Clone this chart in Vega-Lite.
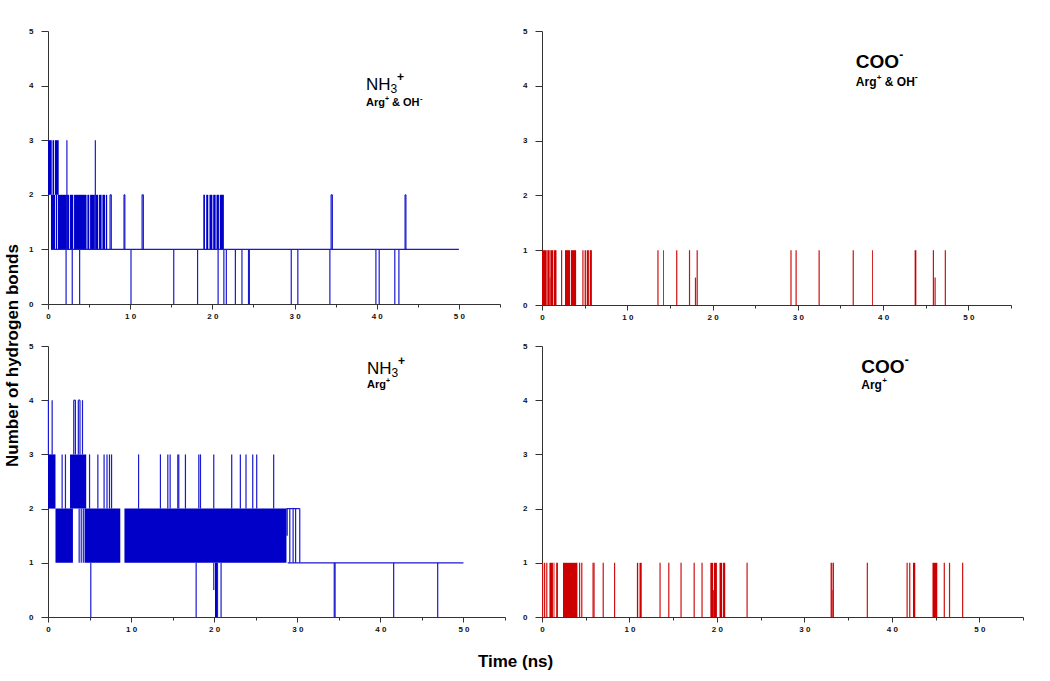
{
"$schema": "https://vega.github.io/schema/vega-lite/v6.json",
"background": "white",
"padding": {"left": 2, "top": 27, "right": 5, "bottom": 5},
"bounds": "flush",
"columns": 2,
"spacing": {"row": 41, "column": 37},
"config": {
  "view": {"stroke": null},
  "axis": {"grid": false, "domainColor": "#333333", "tickColor": "#333333", "labelColor": "#111111", "labelFont": "Liberation Sans", "labelFontWeight": "bold", "labelFontSize": 8, "titleFont": "Liberation Sans", "titleFontWeight": "bold", "titleFontSize": 17, "titleColor": "#000000", "domainWidth": 1, "tickWidth": 1},
  "axisX": {"labelPadding": 3, "labelFlush": false, "labelOverlap": false},
  "axisY": {"labelPadding": 8, "labelOverlap": false},
  "text": {"font": "Liberation Sans", "align": "left", "baseline": "alphabetic", "color": "#000000"}
},
"datasets": {
  "p1": [
    {"k":"b","t":0,"t2":0.45,"lo":2,"hi":3},
    {"k":"b","t":0.55,"t2":0.75,"lo":2,"hi":3},
    {"k":"b","t":0.85,"t2":1.3,"lo":2,"hi":3},
    {"k":"b","t":0.36,"t2":0.85,"lo":1,"hi":2},
    {"k":"b","t":0.95,"t2":1.12,"lo":1,"hi":2},
    {"k":"b","t":1.22,"t2":2.58,"lo":1,"hi":2},
    {"k":"b","t":2.68,"t2":3.07,"lo":1,"hi":2},
    {"k":"b","t":3.17,"t2":4.69,"lo":1,"hi":2},
    {"k":"b","t":4.79,"t2":5.02,"lo":1,"hi":2},
    {"k":"b","t":5.12,"t2":5.7,"lo":1,"hi":2},
    {"k":"b","t":5.8,"t2":6.11,"lo":1,"hi":2},
    {"k":"b","t":6.21,"t2":6.52,"lo":1,"hi":2},
    {"k":"b","t":6.62,"t2":6.95,"lo":1,"hi":2},
    {"k":"b","t":7.05,"t2":7.2,"lo":1,"hi":2},
    {"k":"b","t":18.9,"t2":19.1,"lo":1,"hi":2},
    {"k":"b","t":19.25,"t2":19.5,"lo":1,"hi":2},
    {"k":"b","t":19.65,"t2":20.0,"lo":1,"hi":2},
    {"k":"b","t":20.1,"t2":20.4,"lo":1,"hi":2},
    {"k":"b","t":20.5,"t2":20.8,"lo":1,"hi":2},
    {"k":"b","t":20.9,"t2":21.4,"lo":1,"hi":2},
    {"k":"v","t":2.3,"lo":1,"hi":3},
    {"k":"v","t":5.76,"lo":1,"hi":3},
    {"k":"v","t":7.55,"lo":1,"hi":2},
    {"k":"v","t":7.7,"lo":1,"hi":2},
    {"k":"v","t":9.25,"lo":1,"hi":2},
    {"k":"v","t":9.35,"lo":1,"hi":2},
    {"k":"v","t":11.45,"lo":1,"hi":2},
    {"k":"v","t":11.6,"lo":1,"hi":2},
    {"k":"v","t":34.45,"lo":1,"hi":2},
    {"k":"v","t":34.6,"lo":1,"hi":2},
    {"k":"v","t":43.45,"lo":1,"hi":2},
    {"k":"v","t":43.55,"lo":1,"hi":2},
    {"k":"v","t":2.2,"lo":0,"hi":1},
    {"k":"v","t":2.95,"lo":0,"hi":1},
    {"k":"v","t":3.85,"lo":0,"hi":1},
    {"k":"v","t":10.1,"lo":0,"hi":1},
    {"k":"v","t":15.3,"lo":0,"hi":1},
    {"k":"v","t":18.2,"lo":0,"hi":1},
    {"k":"v","t":20.7,"lo":0,"hi":1},
    {"k":"v","t":21.4,"lo":0,"hi":1},
    {"k":"v","t":21.7,"lo":0,"hi":1},
    {"k":"v","t":22.8,"lo":0,"hi":1},
    {"k":"v","t":23.6,"lo":0,"hi":1},
    {"k":"v","t":24.4,"lo":0,"hi":1},
    {"k":"v","t":24.5,"lo":0,"hi":1},
    {"k":"v","t":29.6,"lo":0,"hi":1},
    {"k":"v","t":30.4,"lo":0,"hi":1},
    {"k":"v","t":34.3,"lo":0,"hi":1},
    {"k":"v","t":39.9,"lo":0,"hi":1},
    {"k":"v","t":40.3,"lo":0,"hi":1},
    {"k":"v","t":42.2,"lo":0,"hi":1},
    {"k":"v","t":42.7,"lo":0,"hi":1},
    {"k":"h","t":0.36,"t2":50,"lo":1},
    {"k":"h","t":7.55,"t2":7.7,"lo":2},
    {"k":"h","t":9.25,"t2":9.35,"lo":2},
    {"k":"h","t":11.45,"t2":11.6,"lo":2},
    {"k":"h","t":34.45,"t2":34.6,"lo":2},
    {"k":"h","t":43.45,"t2":43.55,"lo":2}
  ],
  "p2": [
    {"k":"b","t":0,"t2":0.55,"lo":0,"hi":1},
    {"k":"b","t":0.62,"t2":0.9,"lo":0,"hi":1},
    {"k":"b","t":0.9,"t2":0.98,"lo":0,"hi":0.5},
    {"k":"b","t":0.98,"t2":1.3,"lo":0,"hi":1},
    {"k":"b","t":1.38,"t2":1.7,"lo":0,"hi":1},
    {"k":"b","t":2.7,"t2":3.3,"lo":0,"hi":1},
    {"k":"b","t":3.4,"t2":4.0,"lo":0,"hi":1},
    {"k":"b","t":5.0,"t2":5.15,"lo":0,"hi":1},
    {"k":"b","t":5.25,"t2":5.5,"lo":0,"hi":1},
    {"k":"b","t":5.6,"t2":5.85,"lo":0,"hi":1},
    {"k":"b","t":14.2,"t2":14.3,"lo":0,"hi":1},
    {"k":"b","t":38.7,"t2":38.8,"lo":0,"hi":1},
    {"k":"b","t":43.7,"t2":43.9,"lo":0,"hi":1},
    {"k":"v","t":2.3,"lo":0,"hi":1},
    {"k":"v","t":4.8,"lo":0,"hi":1},
    {"k":"v","t":13.6,"lo":0,"hi":1},
    {"k":"v","t":15.8,"lo":0,"hi":1},
    {"k":"v","t":17.3,"lo":0,"hi":1},
    {"k":"v","t":18.2,"lo":0,"hi":1},
    {"k":"v","t":29.2,"lo":0,"hi":1},
    {"k":"v","t":29.8,"lo":0,"hi":1},
    {"k":"v","t":32.5,"lo":0,"hi":1},
    {"k":"v","t":36.5,"lo":0,"hi":1},
    {"k":"v","t":45.9,"lo":0,"hi":1},
    {"k":"v","t":47.3,"lo":0,"hi":1},
    {"k":"v","t":18.0,"lo":0,"hi":0.5},
    {"k":"v","t":46.1,"lo":0,"hi":0.5}
  ],
  "p3": [
    {"k":"b","t":0,"t2":0.9,"lo":2,"hi":3},
    {"k":"b","t":0.9,"t2":3.0,"lo":1,"hi":2},
    {"k":"b","t":2.65,"t2":4.6,"lo":2,"hi":3},
    {"k":"b","t":4.4,"t2":8.7,"lo":1,"hi":2},
    {"k":"b","t":9.2,"t2":28.7,"lo":1,"hi":2},
    {"k":"b","t":28.7,"t2":28.85,"lo":1.5,"hi":2},
    {"k":"b","t":20.1,"t2":20.35,"lo":0,"hi":1},
    {"k":"v","t":0.05,"lo":3,"hi":4},
    {"k":"v","t":0.5,"lo":3,"hi":4},
    {"k":"v","t":3.1,"lo":3,"hi":4},
    {"k":"v","t":3.3,"lo":3,"hi":4},
    {"k":"v","t":3.65,"lo":3,"hi":4},
    {"k":"v","t":3.85,"lo":3,"hi":4},
    {"k":"v","t":4.15,"lo":3,"hi":4},
    {"k":"v","t":1.7,"lo":2,"hi":3},
    {"k":"v","t":2.1,"lo":2,"hi":3},
    {"k":"v","t":5.0,"lo":2,"hi":3},
    {"k":"v","t":6.0,"lo":2,"hi":3},
    {"k":"v","t":6.75,"lo":2,"hi":3},
    {"k":"v","t":7.1,"lo":2,"hi":3},
    {"k":"v","t":7.4,"lo":2,"hi":3},
    {"k":"v","t":7.65,"lo":2,"hi":3},
    {"k":"v","t":10.9,"lo":2,"hi":3},
    {"k":"v","t":13.53,"lo":2,"hi":3},
    {"k":"v","t":14.42,"lo":2,"hi":3},
    {"k":"v","t":14.7,"lo":2,"hi":3},
    {"k":"v","t":15.62,"lo":2,"hi":3},
    {"k":"v","t":15.74,"lo":2,"hi":3},
    {"k":"v","t":16.54,"lo":2,"hi":3},
    {"k":"v","t":18.15,"lo":2,"hi":3},
    {"k":"v","t":18.35,"lo":2,"hi":3},
    {"k":"v","t":19.95,"lo":2,"hi":3},
    {"k":"v","t":22.11,"lo":2,"hi":3},
    {"k":"v","t":23.15,"lo":2,"hi":3},
    {"k":"v","t":23.83,"lo":2,"hi":3},
    {"k":"v","t":24.64,"lo":2,"hi":3},
    {"k":"v","t":25.12,"lo":2,"hi":3},
    {"k":"v","t":27.16,"lo":2,"hi":3},
    {"k":"v","t":3.75,"lo":1,"hi":2},
    {"k":"v","t":4.0,"lo":1,"hi":2},
    {"k":"v","t":4.25,"lo":1,"hi":2},
    {"k":"v","t":29.1,"lo":1,"hi":2},
    {"k":"v","t":29.5,"lo":1,"hi":2},
    {"k":"v","t":29.8,"lo":1,"hi":2},
    {"k":"v","t":30.3,"lo":1,"hi":2},
    {"k":"v","t":5.15,"lo":0,"hi":1},
    {"k":"v","t":17.83,"lo":0,"hi":1},
    {"k":"v","t":20.4,"lo":0,"hi":1},
    {"k":"v","t":20.83,"lo":0,"hi":1},
    {"k":"v","t":34.45,"lo":0,"hi":1},
    {"k":"v","t":34.55,"lo":0,"hi":1},
    {"k":"v","t":41.6,"lo":0,"hi":1},
    {"k":"v","t":46.9,"lo":0,"hi":1},
    {"k":"v","t":19.95,"lo":0.5,"hi":1},
    {"k":"h","t":28.7,"t2":30.3,"lo":2},
    {"k":"h","t":28.85,"t2":50,"lo":1},
    {"k":"h","t":3.1,"t2":3.3,"lo":4},
    {"k":"h","t":3.65,"t2":3.85,"lo":4}
  ],
  "p4": [
    {"k":"b","t":0.85,"t2":1.25,"lo":0,"hi":1},
    {"k":"b","t":1.32,"t2":1.42,"lo":0,"hi":1},
    {"k":"b","t":1.62,"t2":1.82,"lo":0,"hi":1},
    {"k":"b","t":2.4,"t2":4.05,"lo":0,"hi":1},
    {"k":"b","t":10.85,"t2":11.0,"lo":0,"hi":1},
    {"k":"b","t":11.15,"t2":11.4,"lo":0,"hi":1},
    {"k":"b","t":19.25,"t2":19.55,"lo":0,"hi":1},
    {"k":"b","t":19.55,"t2":19.65,"lo":0,"hi":0.5},
    {"k":"b","t":19.65,"t2":20.0,"lo":0,"hi":1},
    {"k":"b","t":20.3,"t2":20.6,"lo":0,"hi":1},
    {"k":"b","t":20.7,"t2":20.95,"lo":0,"hi":1},
    {"k":"b","t":33.0,"t2":33.15,"lo":0,"hi":1},
    {"k":"b","t":33.15,"t2":33.22,"lo":0,"hi":0.5},
    {"k":"b","t":33.22,"t2":33.38,"lo":0,"hi":1},
    {"k":"b","t":42.42,"t2":42.68,"lo":0,"hi":1},
    {"k":"b","t":44.65,"t2":45.2,"lo":0,"hi":1},
    {"k":"v","t":0.07,"lo":0,"hi":1},
    {"k":"v","t":0.3,"lo":0,"hi":1},
    {"k":"v","t":0.55,"lo":0,"hi":1},
    {"k":"v","t":4.3,"lo":0,"hi":1},
    {"k":"v","t":4.55,"lo":0,"hi":1},
    {"k":"v","t":5.84,"lo":0,"hi":1},
    {"k":"v","t":5.95,"lo":0,"hi":1},
    {"k":"v","t":7.0,"lo":0,"hi":1},
    {"k":"v","t":8.3,"lo":0,"hi":1},
    {"k":"v","t":13.5,"lo":0,"hi":1},
    {"k":"v","t":14.5,"lo":0,"hi":1},
    {"k":"v","t":15.9,"lo":0,"hi":1},
    {"k":"v","t":17.4,"lo":0,"hi":1},
    {"k":"v","t":18.3,"lo":0,"hi":1},
    {"k":"v","t":23.45,"lo":0,"hi":1},
    {"k":"v","t":37.2,"lo":0,"hi":1},
    {"k":"v","t":41.75,"lo":0,"hi":1},
    {"k":"v","t":42.05,"lo":0,"hi":1},
    {"k":"v","t":46.0,"lo":0,"hi":1},
    {"k":"v","t":46.6,"lo":0,"hi":1},
    {"k":"v","t":48.1,"lo":0,"hi":1}
  ]
},
"concat": [
    {"width": 452, "height": 273,
     "layer": [
       {"data": {"name": "p1"}, "transform": [{"filter": "datum.k == 'b'"}], "mark": {"type": "rect", "color": "#0000c8"},
        "encoding": {
          "x": {"field": "t", "type": "quantitative", "scale": {"domain": [0, 55], "nice": false, "zero": false},
                "axis": {"title": null, "values": [0,5,10,15,20,25,30,35,40,45,50,55], "labelExpr": "datum.value % 10 == 0 && datum.value <= 50 ? (datum.value == 0 ? '0' : (datum.value / 10) + ' 0') : ''", "tickSize": {"condition": {"test": "datum.value % 10 == 0", "value": 5}, "value": 3}}},
          "y": {"field": "lo", "type": "quantitative", "scale": {"domain": [0, 5], "nice": false},
                "axis": {"title": null, "values": [0,0.5,1,1.5,2,2.5,3,3.5,4,4.5,5], "labelExpr": "datum.value % 1 == 0 ? format(datum.value, 'd') : ''", "tickSize": {"condition": {"test": "datum.value % 1 == 0", "value": 7}, "value": 4}}},
          "x2": {"field": "t2"}, "y2": {"field": "hi"}}},
       {"data": {"name": "p1"}, "transform": [{"filter": "datum.k == 'v'"}], "mark": {"type": "rule", "color": "#1a1ad0", "strokeWidth": 1.2},
        "encoding": {"x": {"field": "t", "type": "quantitative"}, "y": {"field": "lo", "type": "quantitative"}, "y2": {"field": "hi"}}},
       {"data": {"name": "p1"}, "transform": [{"filter": "datum.k == 'h'"}], "mark": {"type": "rule", "color": "#1a1ad0", "strokeWidth": 1.2},
        "encoding": {"x": {"field": "t", "type": "quantitative"}, "x2": {"field": "t2"}, "y": {"field": "lo", "type": "quantitative"}}},
       {"data": {"values": [{}]}, "mark": {"type": "text", "text": "NH", "fontSize": 17}, "encoding": {"x": {"datum": 38.7, "type": "quantitative"}, "y": {"datum": 3.92, "type": "quantitative"}}},
       {"data": {"values": [{}]}, "mark": {"type": "text", "text": "3", "fontSize": 12, "dx": 24.5, "dy": 3}, "encoding": {"x": {"datum": 38.7, "type": "quantitative"}, "y": {"datum": 3.92, "type": "quantitative"}}},
       {"data": {"values": [{}]}, "mark": {"type": "text", "text": "+", "fontSize": 12, "fontWeight": "bold", "dx": 31, "dy": -9}, "encoding": {"x": {"datum": 38.7, "type": "quantitative"}, "y": {"datum": 3.92, "type": "quantitative"}}},
       {"data": {"values": [{}]}, "mark": {"type": "text", "text": "Arg", "fontSize": 11, "fontWeight": "bold"}, "encoding": {"x": {"datum": 38.7, "type": "quantitative"}, "y": {"datum": 3.62, "type": "quantitative"}}},
       {"data": {"values": [{}]}, "mark": {"type": "text", "text": "+", "fontSize": 7, "fontWeight": "bold", "dx": 19, "dy": -5}, "encoding": {"x": {"datum": 38.7, "type": "quantitative"}, "y": {"datum": 3.62, "type": "quantitative"}}},
       {"data": {"values": [{}]}, "mark": {"type": "text", "text": "& OH", "fontSize": 11, "fontWeight": "bold", "dx": 26}, "encoding": {"x": {"datum": 38.7, "type": "quantitative"}, "y": {"datum": 3.62, "type": "quantitative"}}},
       {"data": {"values": [{}]}, "mark": {"type": "text", "text": "-", "fontSize": 8, "fontWeight": "bold", "dx": 54, "dy": -5}, "encoding": {"x": {"datum": 38.7, "type": "quantitative"}, "y": {"datum": 3.62, "type": "quantitative"}}}
     ]
    },
    {"width": 469, "height": 274,
     "layer": [
       {"data": {"name": "p2"}, "transform": [{"filter": "datum.k == 'b'"}], "mark": {"type": "rect", "color": "#cc0000"},
        "encoding": {
          "x": {"field": "t", "type": "quantitative", "scale": {"domain": [0, 55], "nice": false, "zero": false},
                "axis": {"title": null, "values": [0,5,10,15,20,25,30,35,40,45,50,55], "labelExpr": "datum.value % 10 == 0 && datum.value <= 50 ? (datum.value == 0 ? '0' : (datum.value / 10) + ' 0') : ''", "tickSize": {"condition": {"test": "datum.value % 10 == 0", "value": 5}, "value": 3}}},
          "y": {"field": "lo", "type": "quantitative", "scale": {"domain": [0, 5], "nice": false},
                "axis": {"title": null, "values": [0,0.5,1,1.5,2,2.5,3,3.5,4,4.5,5], "labelExpr": "datum.value % 1 == 0 ? format(datum.value, 'd') : ''", "tickSize": {"condition": {"test": "datum.value % 1 == 0", "value": 7}, "value": 4}}},
          "x2": {"field": "t2"}, "y2": {"field": "hi"}}},
       {"data": {"name": "p2"}, "transform": [{"filter": "datum.k == 'v'"}], "mark": {"type": "rule", "color": "#d01010", "strokeWidth": 1.2},
        "encoding": {"x": {"field": "t", "type": "quantitative"}, "y": {"field": "lo", "type": "quantitative"}, "y2": {"field": "hi"}}},
       {"data": {"values": [{}]}, "mark": {"type": "text", "text": "COO", "fontSize": 19, "fontWeight": "bold"}, "encoding": {"x": {"datum": 36.8, "type": "quantitative"}, "y": {"datum": 4.32, "type": "quantitative"}}},
       {"data": {"values": [{}]}, "mark": {"type": "text", "text": "-", "fontSize": 12, "fontWeight": "bold", "dx": 43.5, "dy": -9}, "encoding": {"x": {"datum": 36.8, "type": "quantitative"}, "y": {"datum": 4.32, "type": "quantitative"}}},
       {"data": {"values": [{}]}, "mark": {"type": "text", "text": "Arg", "fontSize": 12, "fontWeight": "bold"}, "encoding": {"x": {"datum": 36.8, "type": "quantitative"}, "y": {"datum": 3.99, "type": "quantitative"}}},
       {"data": {"values": [{}]}, "mark": {"type": "text", "text": "+", "fontSize": 8, "fontWeight": "bold", "dx": 21, "dy": -6}, "encoding": {"x": {"datum": 36.8, "type": "quantitative"}, "y": {"datum": 3.99, "type": "quantitative"}}},
       {"data": {"values": [{}]}, "mark": {"type": "text", "text": "& OH", "fontSize": 12, "fontWeight": "bold", "dx": 29}, "encoding": {"x": {"datum": 36.8, "type": "quantitative"}, "y": {"datum": 3.99, "type": "quantitative"}}},
       {"data": {"values": [{}]}, "mark": {"type": "text", "text": "-", "fontSize": 9, "fontWeight": "bold", "dx": 59, "dy": -6}, "encoding": {"x": {"datum": 36.8, "type": "quantitative"}, "y": {"datum": 3.99, "type": "quantitative"}}}
     ]
    },
    {"width": 457, "height": 271,
     "layer": [
       {"data": {"name": "p3"}, "transform": [{"filter": "datum.k == 'b'"}], "mark": {"type": "rect", "color": "#0000c8"},
        "encoding": {
          "x": {"field": "t", "type": "quantitative", "scale": {"domain": [0, 55], "nice": false, "zero": false},
                "axis": {"title": "Time (ns)", "titleX": 467, "titleY": 36, "titleAlign": "center", "titleBaseline": "top", "values": [0,5,10,15,20,25,30,35,40,45,50,55], "labelExpr": "datum.value % 10 == 0 && datum.value <= 50 ? (datum.value == 0 ? '0' : (datum.value / 10) + ' 0') : ''", "tickSize": {"condition": {"test": "datum.value % 10 == 0", "value": 5}, "value": 3}}},
          "y": {"field": "lo", "type": "quantitative", "scale": {"domain": [0, 5], "nice": false},
                "axis": {"title": "Number of hydrogen bonds", "titleX": -31, "titleY": 9, "titleAngle": 270, "titleAlign": "center", "titleBaseline": "alphabetic", "values": [0,0.5,1,1.5,2,2.5,3,3.5,4,4.5,5], "labelExpr": "datum.value % 1 == 0 ? format(datum.value, 'd') : ''", "tickSize": {"condition": {"test": "datum.value % 1 == 0", "value": 7}, "value": 4}}},
          "x2": {"field": "t2"}, "y2": {"field": "hi"}}},
       {"data": {"name": "p3"}, "transform": [{"filter": "datum.k == 'v'"}], "mark": {"type": "rule", "color": "#1a1ad0", "strokeWidth": 1.2},
        "encoding": {"x": {"field": "t", "type": "quantitative"}, "y": {"field": "lo", "type": "quantitative"}, "y2": {"field": "hi"}}},
       {"data": {"name": "p3"}, "transform": [{"filter": "datum.k == 'h'"}], "mark": {"type": "rule", "color": "#1a1ad0", "strokeWidth": 1.2},
        "encoding": {"x": {"field": "t", "type": "quantitative"}, "x2": {"field": "t2"}, "y": {"field": "lo", "type": "quantitative"}}},
       {"data": {"values": [{}]}, "mark": {"type": "text", "text": "NH", "fontSize": 17}, "encoding": {"x": {"datum": 38.4, "type": "quantitative"}, "y": {"datum": 4.49, "type": "quantitative"}}},
       {"data": {"values": [{}]}, "mark": {"type": "text", "text": "3", "fontSize": 12, "dx": 24.5, "dy": 3}, "encoding": {"x": {"datum": 38.4, "type": "quantitative"}, "y": {"datum": 4.49, "type": "quantitative"}}},
       {"data": {"values": [{}]}, "mark": {"type": "text", "text": "+", "fontSize": 12, "fontWeight": "bold", "dx": 31, "dy": -9}, "encoding": {"x": {"datum": 38.4, "type": "quantitative"}, "y": {"datum": 4.49, "type": "quantitative"}}},
       {"data": {"values": [{}]}, "mark": {"type": "text", "text": "Arg", "fontSize": 11, "fontWeight": "bold"}, "encoding": {"x": {"datum": 38.4, "type": "quantitative"}, "y": {"datum": 4.22, "type": "quantitative"}}},
       {"data": {"values": [{}]}, "mark": {"type": "text", "text": "+", "fontSize": 7, "fontWeight": "bold", "dx": 19, "dy": -5}, "encoding": {"x": {"datum": 38.4, "type": "quantitative"}, "y": {"datum": 4.22, "type": "quantitative"}}}
     ]
    },
    {"width": 481, "height": 271,
     "layer": [
       {"data": {"name": "p4"}, "transform": [{"filter": "datum.k == 'b'"}], "mark": {"type": "rect", "color": "#cc0000"},
        "encoding": {
          "x": {"field": "t", "type": "quantitative", "scale": {"domain": [0, 55], "nice": false, "zero": false},
                "axis": {"title": null, "values": [0,5,10,15,20,25,30,35,40,45,50,55], "labelExpr": "datum.value % 10 == 0 && datum.value <= 50 ? (datum.value == 0 ? '0' : (datum.value / 10) + ' 0') : ''", "tickSize": {"condition": {"test": "datum.value % 10 == 0", "value": 5}, "value": 3}}},
          "y": {"field": "lo", "type": "quantitative", "scale": {"domain": [0, 5], "nice": false},
                "axis": {"title": null, "values": [0,0.5,1,1.5,2,2.5,3,3.5,4,4.5,5], "labelExpr": "datum.value % 1 == 0 ? format(datum.value, 'd') : ''", "tickSize": {"condition": {"test": "datum.value % 1 == 0", "value": 7}, "value": 4}}},
          "x2": {"field": "t2"}, "y2": {"field": "hi"}}},
       {"data": {"name": "p4"}, "transform": [{"filter": "datum.k == 'v'"}], "mark": {"type": "rule", "color": "#d01010", "strokeWidth": 1.2},
        "encoding": {"x": {"field": "t", "type": "quantitative"}, "y": {"field": "lo", "type": "quantitative"}, "y2": {"field": "hi"}}},
       {"data": {"values": [{}]}, "mark": {"type": "text", "text": "COO", "fontSize": 19, "fontWeight": "bold"}, "encoding": {"x": {"datum": 36.5, "type": "quantitative"}, "y": {"datum": 4.5, "type": "quantitative"}}},
       {"data": {"values": [{}]}, "mark": {"type": "text", "text": "-", "fontSize": 12, "fontWeight": "bold", "dx": 43.5, "dy": -9}, "encoding": {"x": {"datum": 36.5, "type": "quantitative"}, "y": {"datum": 4.5, "type": "quantitative"}}},
       {"data": {"values": [{}]}, "mark": {"type": "text", "text": "Arg", "fontSize": 12, "fontWeight": "bold"}, "encoding": {"x": {"datum": 36.5, "type": "quantitative"}, "y": {"datum": 4.2, "type": "quantitative"}}},
       {"data": {"values": [{}]}, "mark": {"type": "text", "text": "+", "fontSize": 8, "fontWeight": "bold", "dx": 21, "dy": -6}, "encoding": {"x": {"datum": 36.5, "type": "quantitative"}, "y": {"datum": 4.2, "type": "quantitative"}}}
     ]
    }
]
}
